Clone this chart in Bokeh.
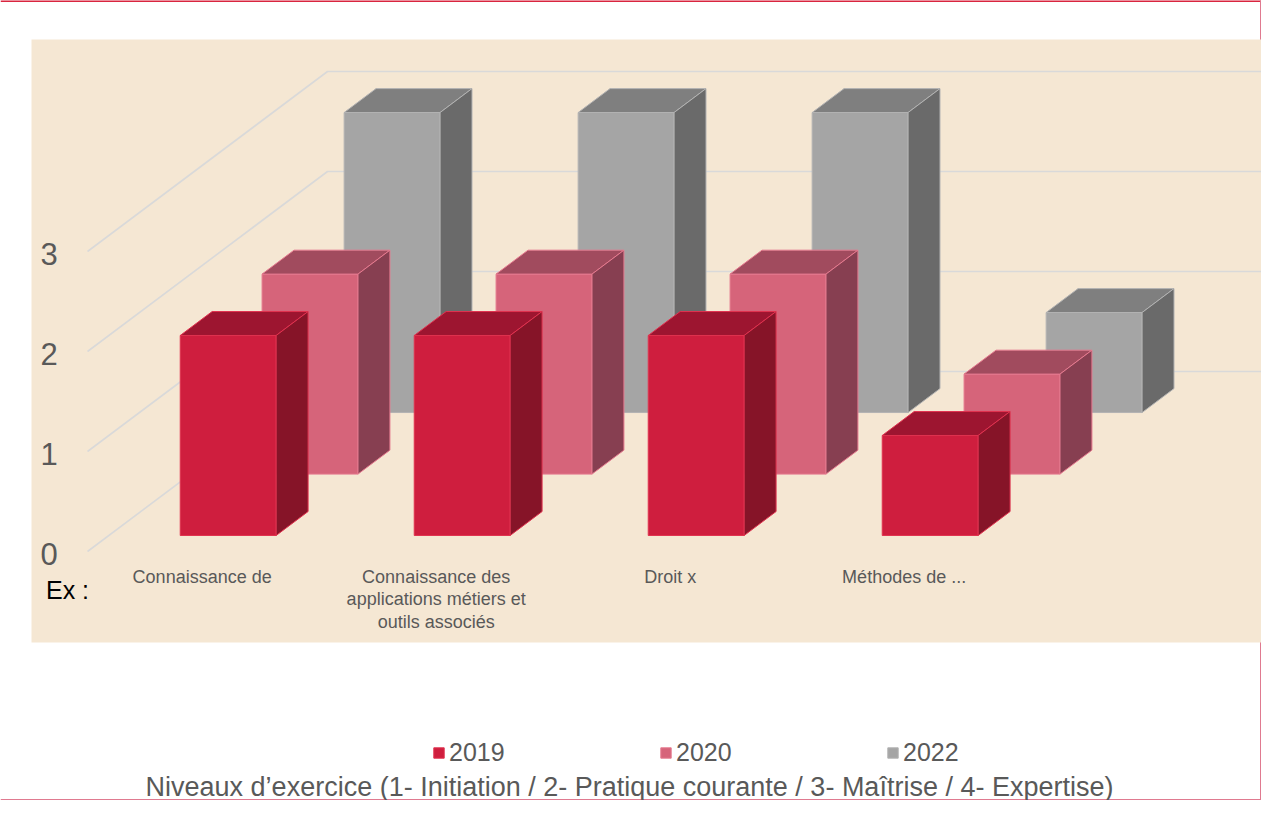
from bokeh.plotting import figure
from bokeh.models import Range1d, Legend, LegendItem, Label
from bokeh.core.properties import value
from bokeh.embed import file_html
from bokeh.resources import INLINE

# ---------------- data ----------------
categories = [
    "Connaissance de",
    "Connaissance des\napplications métiers et\noutils associés",
    "Droit x",
    "Méthodes de ...",
]
series_names = ["2019", "2020", "2022"]
values_2019 = [2, 2, 2, 1]
values_2020 = [2, 2, 2, 1]
values_2022 = [3, 3, 3, 1]
y_ticks = [0, 1, 2, 3]
row_label = "Ex :"
axis_title = "Niveaux d\u2019exercice (1- Initiation / 2- Pratique courante / 3- Ma\u00eetrise / 4- Expertise)"

series_values = [values_2019, values_2020, values_2022]

# ---------------- style ----------------
FRONT = ["#CF1E3E", "#D6647A", "#A5A5A5"]
TOP = ["#9D1530", "#A14B5E", "#7F7F7F"]
SIDE = ["#861428", "#873F51", "#6A6A6A"]
EDGE = ["#E0324F", "#E57A8F", "#B3B3B3"]
BEIGE = "#F5E7D3"
GRID = "#D9D9D9"
TEXT = "#595959"
FONT = "Liberation Sans"

W, H = 1261, 800
PX_X, PX_Y = 234.0, 100.0          # pixels per category / per value unit
ORIGIN_X, ORIGIN_Y = 87.0, 551.0   # frame px of front-left floor corner (value 0)

DX, DY = 240.0 / PX_X, 180.0 / PX_Y  # projection of full depth (0 -> 1)
ROW_DEPTH = [0.089, 0.430, 0.772]    # front depth of each series row
BAR_DEPTH = 0.133
BAR_OFF, BAR_W = 0.305, 0.41

x_range = Range1d(-ORIGIN_X / PX_X, (W - ORIGIN_X) / PX_X)
y_range = Range1d(-(H - ORIGIN_Y) / PX_Y, ORIGIN_Y / PX_Y)

p = figure(width=W, height=H, x_range=x_range, y_range=y_range,
           output_backend="svg", toolbar_location=None, min_border=0,
           x_axis_location=None, y_axis_location=None)
p.outline_line_color = None
p.background_fill_color = "white"
p.border_fill_color = "white"
p.grid.grid_line_color = None


def proj(x, y, d):
    return x + d * DX, y + d * DY


def fx(px):
    return (px - ORIGIN_X) / PX_X


def fy(py):
    return (ORIGIN_Y - py) / PX_Y


# outer frame lines (top / right / bottom)
x0r, x1r = x_range.start, x_range.end
y0r, y1r = y_range.start, y_range.end
p.segment(x0=[x0r], y0=[y1r], x1=[x1r], y1=[y1r], line_color="#D9253F", line_width=3)
p.segment(x0=[x1r, x0r], y0=[y1r, y0r], x1=[x1r, x1r], y1=[y0r, y0r], line_color="#E07A90", line_width=3)

# chart background panel
p.quad(left=[fx(31)], right=[x1r + 1], top=[fy(39)], bottom=[fy(642)],
       fill_color=BEIGE, line_color=None)

# gridlines: side wall diagonals + back wall
ncat = len(categories)
gx, gy = [], []
for v in y_ticks:
    a = proj(0, v, 0)
    b = proj(0, v, 1)
    c = proj(ncat, v, 1)
    gx.append([a[0], b[0], c[0]])
    gy.append([a[1], b[1], c[1]])
p.multi_line(xs=gx, ys=gy, line_color=GRID, line_width=1.6)

# bars (back rows first)
front_renderers = {}
for r in reversed(range(len(series_names))):
    vals = series_values[r]
    d0 = ROW_DEPTH[r]
    d1 = d0 + BAR_DEPTH
    fxs, fys, txs, tys, sxs, sys_ = [], [], [], [], [], []
    for i, v in enumerate(vals):
        xa = i + BAR_OFF
        xb = xa + BAR_W
        pts = [proj(xa, 0, d0), proj(xb, 0, d0), proj(xb, v, d0), proj(xa, v, d0)]
        fxs.append([q[0] for q in pts]); fys.append([q[1] for q in pts])
        pts = [proj(xa, v, d0), proj(xb, v, d0), proj(xb, v, d1), proj(xa, v, d1)]
        txs.append([q[0] for q in pts]); tys.append([q[1] for q in pts])
        pts = [proj(xb, 0, d0), proj(xb, 0, d1), proj(xb, v, d1), proj(xb, v, d0)]
        sxs.append([q[0] for q in pts]); sys_.append([q[1] for q in pts])
    rf = p.patches(xs=fxs, ys=fys, fill_color=FRONT[r], line_color=EDGE[r], line_width=1)
    p.patches(xs=txs, ys=tys, fill_color=TOP[r], line_color=EDGE[r], line_width=1)
    p.patches(xs=sxs, ys=sys_, fill_color=SIDE[r], line_color=EDGE[r], line_width=1)
    front_renderers[r] = rf

# value labels (front plane)
p.text(x=[fx(48.5)] * len(y_ticks), y=[t - 0.02 for t in y_ticks], text=[str(t) for t in y_ticks],
       text_align="center", text_baseline="middle", text_color=TEXT,
       text_font=value(FONT), text_font_size="31px")

# category labels
p.text(x=[i + 0.49 for i in range(ncat)], y=[-0.15] * ncat, text=categories,
       text_align="center", text_baseline="top", text_color=TEXT,
       text_font=value(FONT), text_font_size="18px", text_line_height=1.14)

# "Ex :" row label
p.add_layout(Label(x=67, y=H - 589, x_units="screen", y_units="screen", text=row_label,
                   text_align="center", text_baseline="middle", text_color="black",
                   text_font=FONT, text_font_size="25px"))

# axis title at bottom
p.add_layout(Label(x=629, y=H - 786, x_units="screen", y_units="screen", text=axis_title,
                   text_align="center", text_baseline="middle", text_color=TEXT,
                   text_font=FONT, text_font_size="27px"))

# legend
legend = Legend(items=[LegendItem(label=series_names[r], renderers=[front_renderers[r]])
                       for r in range(len(series_names))],
                orientation="horizontal", location=(432, H - 767),
                glyph_width=13, glyph_height=13, label_standoff=4,
                label_width=60, label_height=28, spacing=150,
                padding=0, margin=0, background_fill_alpha=0, border_line_alpha=0,
                label_text_font=FONT, label_text_font_size="25px", label_text_color=TEXT)
p.add_layout(legend, "center")

open("out.html", "w").write(file_html(p, INLINE))
